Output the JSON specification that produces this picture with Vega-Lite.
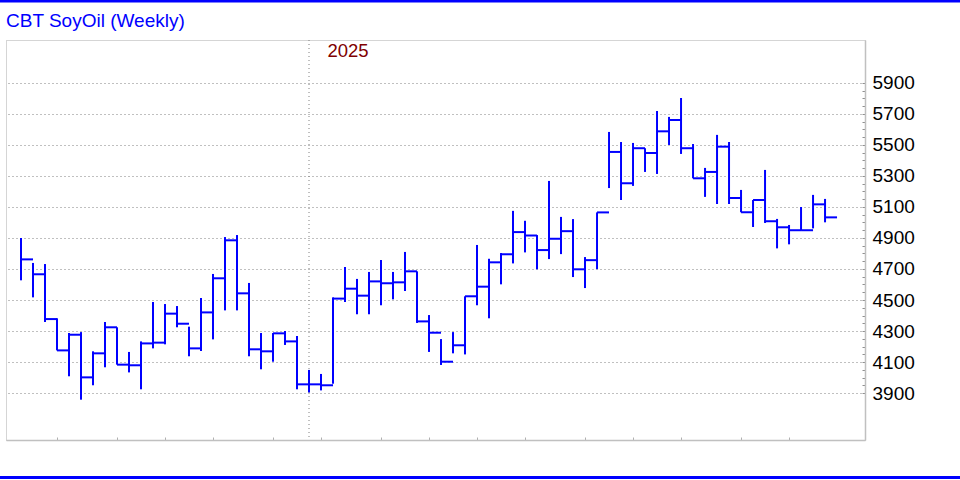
{
  "$schema": "https://vega.github.io/schema/vega-lite/v6.json",
  "width": 859,
  "height": 400,
  "autosize": {"type": "none"},
  "padding": {"left": 6, "top": 40, "right": 95, "bottom": 40},
  "background": "white",
  "config": {
    "font": "Liberation Sans",
    "view": {"stroke": "#aaaaaa", "strokeDash": [1, 1], "strokeWidth": 1}
  },
  "title": {
    "text": "CBT SoyOil (Weekly)",
    "anchor": "start",
    "frame": "group",
    "orient": "top",
    "offset": -31.5,
    "font": "Liberation Sans",
    "fontSize": 19,
    "fontWeight": "normal",
    "color": "#0000ff"
  },
  "datasets": {
    "bars": [
      {"i": 0, "h": 4900, "l": 4627, "c": 4762},
      {"i": 1, "h": 4739, "l": 4517, "c": 4666},
      {"i": 2, "h": 4732, "l": 4358, "c": 4377},
      {"i": 3, "h": 4382, "l": 4175, "c": 4175},
      {"i": 4, "h": 4287, "l": 4008, "c": 4276},
      {"i": 5, "h": 4293, "l": 3857, "c": 4001},
      {"i": 6, "h": 4169, "l": 3950, "c": 4156},
      {"i": 7, "h": 4358, "l": 4066, "c": 4324},
      {"i": 8, "h": 4324, "l": 4083, "c": 4083},
      {"i": 9, "h": 4165, "l": 4033, "c": 4079},
      {"i": 10, "h": 4233, "l": 3924, "c": 4220},
      {"i": 11, "h": 4487, "l": 4188, "c": 4225},
      {"i": 12, "h": 4474, "l": 4214, "c": 4412},
      {"i": 13, "h": 4461, "l": 4324, "c": 4347},
      {"i": 14, "h": 4328, "l": 4137, "c": 4188},
      {"i": 15, "h": 4513, "l": 4171, "c": 4420},
      {"i": 16, "h": 4668, "l": 4246, "c": 4640},
      {"i": 17, "h": 4906, "l": 4433, "c": 4885},
      {"i": 18, "h": 4919, "l": 4433, "c": 4543},
      {"i": 19, "h": 4610, "l": 4137, "c": 4182},
      {"i": 20, "h": 4287, "l": 4053, "c": 4169},
      {"i": 21, "h": 4287, "l": 4102, "c": 4285},
      {"i": 22, "h": 4300, "l": 4210, "c": 4233},
      {"i": 23, "h": 4268, "l": 3924, "c": 3956},
      {"i": 24, "h": 4049, "l": 3904, "c": 3956},
      {"i": 25, "h": 4023, "l": 3917, "c": 3950},
      {"i": 26, "h": 4517, "l": 3960, "c": 4509},
      {"i": 27, "h": 4713, "l": 4487, "c": 4573},
      {"i": 28, "h": 4636, "l": 4408, "c": 4528},
      {"i": 29, "h": 4681, "l": 4408, "c": 4620},
      {"i": 30, "h": 4758, "l": 4466, "c": 4608},
      {"i": 31, "h": 4681, "l": 4504, "c": 4614},
      {"i": 32, "h": 4810, "l": 4558, "c": 4685},
      {"i": 33, "h": 4685, "l": 4352, "c": 4362},
      {"i": 34, "h": 4403, "l": 4165, "c": 4289},
      {"i": 35, "h": 4248, "l": 4081, "c": 4102},
      {"i": 36, "h": 4293, "l": 4156, "c": 4208},
      {"i": 37, "h": 4524, "l": 4149, "c": 4524},
      {"i": 38, "h": 4855, "l": 4466, "c": 4586},
      {"i": 39, "h": 4766, "l": 4382, "c": 4743},
      {"i": 40, "h": 4803, "l": 4601, "c": 4795},
      {"i": 41, "h": 5075, "l": 4736, "c": 4938},
      {"i": 42, "h": 5011, "l": 4807, "c": 4916},
      {"i": 43, "h": 4919, "l": 4698, "c": 4822},
      {"i": 44, "h": 5268, "l": 4764, "c": 4895},
      {"i": 45, "h": 5036, "l": 4796, "c": 4944},
      {"i": 46, "h": 5022, "l": 4648, "c": 4698},
      {"i": 47, "h": 4777, "l": 4577, "c": 4757},
      {"i": 48, "h": 5065, "l": 4699, "c": 5065},
      {"i": 49, "h": 5584, "l": 5222, "c": 5455},
      {"i": 50, "h": 5519, "l": 5145, "c": 5253},
      {"i": 51, "h": 5513, "l": 5236, "c": 5479},
      {"i": 52, "h": 5479, "l": 5326, "c": 5448},
      {"i": 53, "h": 5719, "l": 5313, "c": 5588},
      {"i": 54, "h": 5681, "l": 5500, "c": 5661},
      {"i": 55, "h": 5803, "l": 5442, "c": 5479},
      {"i": 56, "h": 5506, "l": 5285, "c": 5285},
      {"i": 57, "h": 5352, "l": 5165, "c": 5326},
      {"i": 58, "h": 5565, "l": 5119, "c": 5489},
      {"i": 59, "h": 5519, "l": 5119, "c": 5158},
      {"i": 60, "h": 5210, "l": 5066, "c": 5066},
      {"i": 61, "h": 5145, "l": 4971, "c": 5145},
      {"i": 62, "h": 5339, "l": 4997, "c": 5008},
      {"i": 63, "h": 5023, "l": 4833, "c": 4969},
      {"i": 64, "h": 4984, "l": 4859, "c": 4950},
      {"i": 65, "h": 5100, "l": 4950, "c": 4950},
      {"i": 66, "h": 5178, "l": 4962, "c": 5117},
      {"i": 67, "h": 5152, "l": 5001, "c": 5033}
    ]
  },
  "layer": [
    {
      "data": {"values": [{"i": 24}]},
      "mark": {"type": "rule", "color": "#808080", "strokeDash": [1, 3], "strokeWidth": 1},
      "encoding": {
        "x": {"field": "i", "type": "quantitative"}
      }
    },
    {
      "data": {"name": "bars"},
      "mark": {"type": "rule", "color": "#0000ff", "strokeWidth": 2},
      "encoding": {
        "x": {
          "field": "i",
          "type": "quantitative",
          "scale": {"domain": [-1.25, 70.33], "nice": false, "zero": false},
          "axis": {
            "orient": "bottom",
            "title": null,
            "values": [3, 8, 12, 16, 21, 25, 30, 34, 38, 42, 47, 51, 55, 60, 64],
            "tickCount": 100,
            "labels": false,
            "grid": false,
            "domainColor": "#c0c0c0",
            "domainWidth": 1.5,
            "tickColor": "#b0b0b0",
            "tickSize": -3,
            "tickWidth": 1
          }
        },
        "y": {
          "field": "l",
          "type": "quantitative",
          "scale": {"domain": [3597, 6177], "nice": false, "zero": false},
          "axis": {
            "orient": "right",
            "title": null,
            "values": [3900, 3950, 4000, 4050, 4100, 4150, 4200, 4250, 4300, 4350, 4400, 4450, 4500, 4550, 4600, 4650, 4700, 4750, 4800, 4850, 4900, 4950, 5000, 5050, 5100, 5150, 5200, 5250, 5300, 5350, 5400, 5450, 5500, 5550, 5600, 5650, 5700, 5750, 5800, 5850, 5900],
            "tickCount": 100,
            "format": "d",
            "labelExpr": "datum.value % 200 == 100 ? datum.label : ''",
            "labelOverlap": false,
            "labelBound": false,
            "labelFont": "Liberation Sans",
            "labelFontSize": 19,
            "labelColor": "#000000",
            "labelPadding": 10,
            "grid": true,
            "gridColor": "#808080",
            "gridDash": [1, 3],
            "gridWidth": 1,
            "gridOpacity": {"condition": {"test": "datum.value % 200 == 100", "value": 1}, "value": 0},
            "domainColor": "#c0c0c0",
            "domainWidth": 1.5,
            "tickColor": "#909090",
            "tickSize": -3,
            "tickWidth": 1
          }
        },
        "y2": {"field": "h"}
      }
    },
    {
      "data": {"name": "bars"},
      "mark": {"type": "rule", "color": "#0000ff", "strokeWidth": 2, "x2Offset": 12},
      "encoding": {
        "x": {"field": "i", "type": "quantitative"},
        "x2": {"field": "i"},
        "y": {"field": "c", "type": "quantitative"}
      }
    },
    {
      "data": {"values": [{"i": 27.25, "v": 6106, "t": "2025"}]},
      "mark": {"type": "text", "color": "#800000", "font": "Liberation Sans", "fontSize": 18.5, "baseline": "middle", "align": "center"},
      "encoding": {
        "x": {"field": "i", "type": "quantitative"},
        "y": {"field": "v", "type": "quantitative"},
        "text": {"field": "t"}
      }
    },
    {
      "data": {"values": [{"p": "top"}]},
      "mark": {"type": "rule", "color": "#0000ff", "strokeWidth": 3},
      "encoding": {
        "x": {"value": -6},
        "x2": {"value": 954},
        "y": {"value": -39}
      }
    },
    {
      "data": {"values": [{"p": "bottom"}]},
      "mark": {"type": "rule", "color": "#0000ff", "strokeWidth": 3},
      "encoding": {
        "x": {"value": -6},
        "x2": {"value": 954},
        "y": {"value": 437.5}
      }
    }
  ]
}
